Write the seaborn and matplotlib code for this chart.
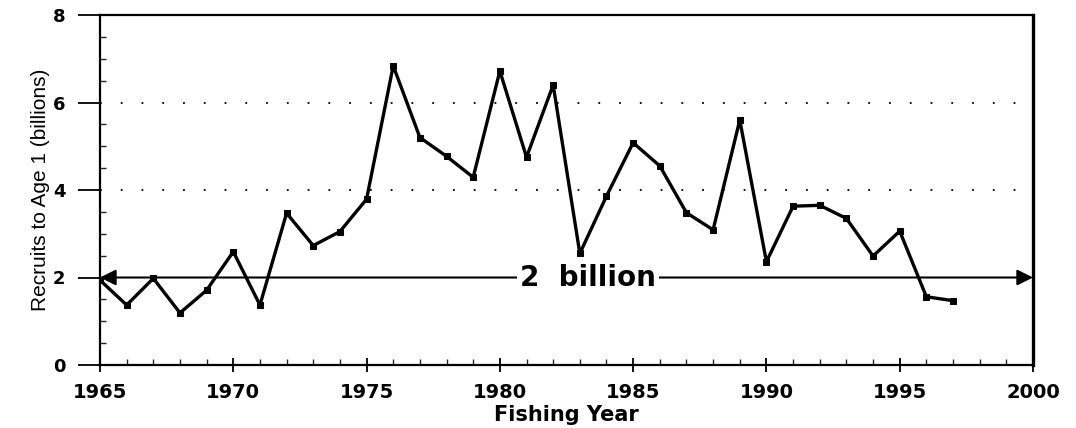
#!/usr/bin/env python3
# coding=utf-8
from matplotlib import pyplot as plt
from matplotlib.ticker import MultipleLocator
import pandas as pd
import seaborn as sns

# recruits to age 1 (billions)
years = list(range(1965, 1998))
recruits = [1.94, 1.37, 1.98, 1.19, 1.71, 2.59, 1.37, 3.47, 2.73, 3.05,
            3.79, 6.84, 5.20, 4.77, 4.29, 6.72, 4.75, 6.40, 2.55, 3.86,
            5.08, 4.55, 3.48, 3.09, 5.60, 2.36, 3.63, 3.65, 3.35, 2.49,
            3.06, 1.56, 1.47]
ref_level = 2
ref_label = "2  billion"
grid_levels = [4, 6]
x_ticks = [1965, 1970, 1975, 1980, 1985, 1990, 1995, 2000]
y_ticks = [0, 2, 4, 6, 8]

df = pd.DataFrame({'year': years, 'recruits': recruits})

sns.set_style("ticks")
plt.rcParams['font.family'] = ['DejaVu Sans']

fig = plt.figure(figsize=(10.76, 4.28), dpi=100)
ax = fig.add_axes([100 / 1076, 63 / 428, 933 / 1076, 350 / 428])

# dotted guides
for lvl in grid_levels:
    ax.axhline(lvl, color='black', lw=1.3, ls=(0, (1, 10.5)), zorder=1)

# reference line with arrows on both ends
ax.annotate('', xy=(2000, ref_level), xytext=(1965, ref_level),
            arrowprops=dict(arrowstyle='<|-|>', color='black', lw=1.5,
                            mutation_scale=24, shrinkA=0, shrinkB=0),
            zorder=2)
ax.text(1983.3, ref_level, ref_label, ha='center', va='center',
        fontsize=20, fontweight='bold', color='black', family='DejaVu Sans',
        bbox=dict(facecolor='white', edgecolor='none', pad=2), zorder=3)

sns.lineplot(data=df, x='year', y='recruits', ax=ax, color='black',
             lw=2.4, marker='s', markersize=4, markeredgecolor='black',
             zorder=4)

ax.set_xlim(1965, 2000)
ax.set_ylim(0, 8)
ax.set_xticks(x_ticks)
ax.set_yticks(y_ticks)
ax.xaxis.set_minor_locator(MultipleLocator(1))
ax.yaxis.set_minor_locator(MultipleLocator(0.5))
ax.tick_params(axis='y', which='major', direction='out', length=16,
               width=1.3, labelsize=13, pad=9, colors='black')
ax.tick_params(axis='y', which='minor', direction='in', length=4, width=1)
ax.tick_params(axis='x', which='major', direction='inout', length=10,
               width=1.3, labelsize=14, pad=8, colors='black')
ax.tick_params(axis='x', which='minor', direction='in', length=4, width=1)
for lab in ax.get_xticklabels() + ax.get_yticklabels():
    lab.set_fontweight('bold')

for side in ['top', 'bottom', 'left']:
    ax.spines[side].set_linewidth(1.6)
    ax.spines[side].set_color('black')
ax.spines['right'].set_linewidth(2.4)
ax.spines['right'].set_color('black')

ax.set_xlabel('Fishing Year', fontsize=15, fontweight='bold', labelpad=2,
              color='black')
ax.set_ylabel('Recruits to Age 1 (billions)', fontsize=15, color='black',
              family=['Liberation Sans Narrow', 'Liberation Sans'], labelpad=2)

plt.savefig('out.png', dpi=100)
